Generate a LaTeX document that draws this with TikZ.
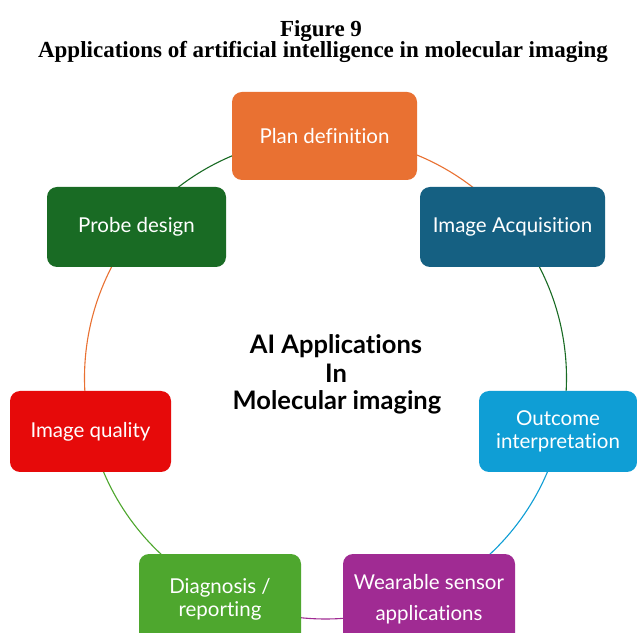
\documentclass[tikz,border=0pt]{standalone}
\usepackage{fontspec}
\setmainfont{Liberation Serif}
\newfontfamily\boxfont[Ligatures=NoCommon]{Lato}
\definecolor{cOrange}{HTML}{E97132}
\definecolor{cTeal}{HTML}{156082}
\definecolor{cDkGreen}{HTML}{196B24}
\definecolor{cSky}{HTML}{0F9ED5}
\definecolor{cRed}{HTML}{E60A0A}
\definecolor{cPurple}{HTML}{A02B93}
\definecolor{cGreen}{HTML}{4EA72E}
\begin{document}
\begin{tikzpicture}[x=1pt,y=1pt,
  appbox/.style={rectangle, rounded corners=10pt, inner sep=0pt, text=white,
    font=\boxfont\fontsize{20.5}{23}\selectfont, align=center},
  ring/.style={line width=1.1pt},
  ttl/.style={font=\bfseries\fontsize{23}{22}\selectfont, anchor=base},
  ctr/.style={font=\boxfont\bfseries\fontsize{25.5}{28}\selectfont, anchor=base}]
\useasboundingbox (0,0) rectangle (637,632);
\clip (0,0) rectangle (637,632);
\fill[white] (0,0) rectangle (637,632);
\coordinate (c) at (325.5,254);
% ring segments
\draw[ring, cOrange]  ([shift={(90:241)}]c) arc[start angle=90, end angle=39, radius=241];
\draw[ring, cDkGreen] ([shift={(39:241)}]c) arc[start angle=39, end angle=-12.8, radius=241];
\draw[ring, cSky]     ([shift={(-12.8:241)}]c) arc[start angle=-12.8, end angle=-64, radius=241];
\draw[ring, cPurple]  ([shift={(-64:241)}]c) arc[start angle=-64, end angle=-116, radius=241];
\draw[ring, cGreen]   ([shift={(-116:241)}]c) arc[start angle=-116, end angle=-167, radius=241];
\draw[ring, cOrange]  ([shift={(-167:241)}]c) arc[start angle=-167, end angle=-219, radius=241];
\draw[ring, cDkGreen] ([shift={(141:241)}]c) arc[start angle=141, end angle=90, radius=241];
% boxes
\node[appbox, fill=cOrange, minimum width=185pt, minimum height=88pt] (plan) at (324.5,496) {Plan definition};
\node[appbox, fill=cTeal, minimum width=185pt, minimum height=80pt] (acq) at (512.5,405) {Image Acquisition};
\node[appbox, fill=cDkGreen, minimum width=179pt, minimum height=80pt] (probe) at (136.5,405) {Probe design};
\node[appbox, fill=cSky, minimum width=158pt, minimum height=81pt] (outc) at (558,200.5) {Outcome\\interpretation};
\node[appbox, fill=cRed, minimum width=161pt, minimum height=81pt] (qual) at (90.5,200.5) {Image quality};
\node[appbox, fill=cGreen, minimum width=162pt, minimum height=90pt] (diag) at (220,33) {Diagnosis /\\reporting};
\node[appbox, fill=cPurple, minimum width=172pt, minimum height=90pt] (wear) at (429,33) {Wearable sensor\\[8pt]applications};
% title
\node[ttl] (t1) at (321,595) {Figure 9};
\node[ttl] (t2) at (323,574) {Applications of artificial intelligence in molecular imaging};
% centre text
\node[ctr] (m1) at (336,278) {AI Applications};
\node[ctr] (m2) at (336,249) {In};
\node[ctr] (m3) at (337,222) {Molecular imaging};
\end{tikzpicture}
\end{document}
